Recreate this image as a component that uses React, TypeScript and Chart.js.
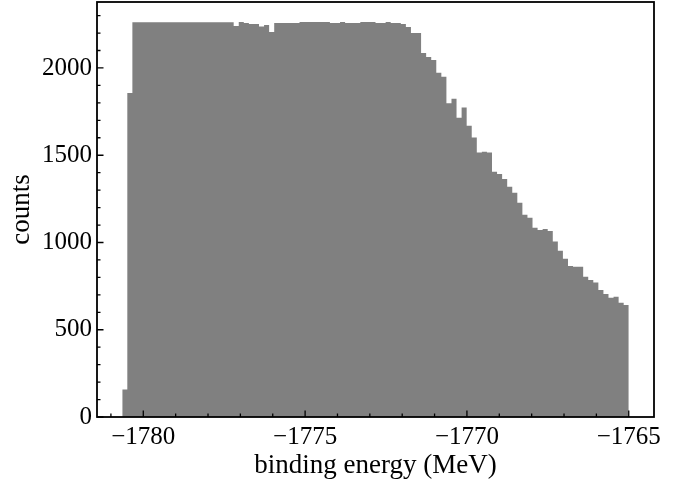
import React, { useEffect, useRef } from "react";
import { Chart, registerables } from "chart.js";

Chart.register(...registerables);

// Histogram bins (binding energy, MeV)
const binStart = -1780.65;
const binWidth = 0.1565;

// Counts per bin
const counts: number[] = [
  158, 1857, 2262, 2262, 2262, 2262, 2262, 2262, 2262, 2262,
  2262, 2262, 2262, 2262, 2262, 2262, 2262, 2262, 2262, 2262,
  2262, 2262, 2241, 2264, 2258, 2252, 2252, 2237, 2246, 2206,
  2258, 2258, 2258, 2258, 2258, 2264, 2264, 2264, 2264, 2264,
  2264, 2258, 2258, 2264, 2258, 2258, 2258, 2264, 2264, 2264,
  2258, 2258, 2264, 2258, 2258, 2252, 2235, 2201, 2201, 2086,
  2063, 2046, 1973, 1950, 1798, 1824, 1715, 1773, 1669, 1601,
  1515, 1520, 1515, 1406, 1393, 1364, 1320, 1285, 1228, 1159,
  1142, 1085, 1072, 1077, 1066, 1005, 953, 907, 865, 861,
  861, 804, 785, 770, 728, 705, 684, 689, 655, 642,
];

const xMajorTicks = [-1780, -1775, -1770, -1765];
const xMinorTicks = [-1781, -1779, -1778, -1777, -1776, -1774, -1773, -1772, -1771, -1769, -1768, -1767, -1766];
const yMajorTicks = [0, 500, 1000, 1500, 2000];
const yMinorTicks = [100, 200, 300, 400, 600, 700, 800, 900, 1100, 1200, 1300, 1400, 1600, 1700, 1800, 1900, 2100, 2200, 2300];

const xLabel = "binding energy (MeV)";
const yLabel = "counts";

const FONT = "'Liberation Serif', 'DejaVu Serif', serif";

const framePlugin = {
  id: "frameTicks",
  afterDraw(chart: any) {
    const ctx = chart.ctx;
    const { left, right, top, bottom } = chart.chartArea;
    const xs = chart.scales.x;
    const ys = chart.scales.y;
    ctx.save();
    ctx.strokeStyle = "#000";
    ctx.lineWidth = 1.3;
    ctx.beginPath();
    const drawX = (v: number, len: number) => {
      const px = xs.getPixelForValue(v);
      ctx.moveTo(px, bottom);
      ctx.lineTo(px, bottom - len);
    };
    const drawY = (v: number, len: number) => {
      const py = ys.getPixelForValue(v);
      ctx.moveTo(left, py);
      ctx.lineTo(left + len, py);
    };
    xMajorTicks.forEach((v) => drawX(v, 6.5));
    xMinorTicks.forEach((v) => drawX(v, 3.5));
    yMajorTicks.forEach((v) => drawY(v, 6.5));
    yMinorTicks.forEach((v) => drawY(v, 3.5));
    ctx.stroke();
    ctx.lineWidth = 1.8;
    ctx.strokeRect(left, top, right - left, bottom - top);
    ctx.restore();
  },
};

export default function App() {
  const ref = useRef<HTMLCanvasElement | null>(null);

  useEffect(() => {
    if (!ref.current) return;
    const pts = [] as { x: number; y: number }[];
    for (let i = 0; i <= counts.length; i++) {
      pts.push({ x: binStart + i * binWidth, y: counts[Math.min(i, counts.length - 1)] });
    }
    const chart = new Chart(ref.current, {
      type: "line",
      data: {
        datasets: [
          {
            data: pts,
            stepped: "before",
            fill: "origin",
            backgroundColor: "#808080",
            borderColor: "#808080",
            borderWidth: 0,
            pointRadius: 0,
          },
        ],
      },
      options: {
        animation: false,
        responsive: false,
        events: [],
        layout: { padding: { top: 2, right: 42, left: 0, bottom: 0 } },
        plugins: { legend: { display: false }, tooltip: { enabled: false } },
        scales: {
          x: {
            type: "linear",
            min: -1781.43,
            max: -1764.22,
            grid: { display: false, drawTicks: false },
            border: { display: false },
            afterBuildTicks: (scale: any) => {
              scale.ticks = xMajorTicks.map((v) => ({ value: v }));
            },
            afterFit: (scale: any) => {
              scale.height = 65;
              scale.paddingLeft = 0;
              scale.paddingRight = 0;
            },
            ticks: {
              padding: 5,
              color: "#000",
              font: { family: FONT, size: 25 },
              maxRotation: 0,
              autoSkip: false,
              callback: (v: any) => "\u2212" + Math.abs(Number(v)),
            },
            title: {
              display: true,
              text: xLabel,
              color: "#000",
              font: { family: FONT, size: 27 },
              padding: { top: 0, bottom: 0 },
            },
          },
          y: {
            type: "linear",
            min: 0,
            max: 2378,
            grid: { display: false, drawTicks: false },
            border: { display: false },
            afterBuildTicks: (scale: any) => {
              scale.ticks = yMajorTicks.map((v) => ({ value: v }));
            },
            afterFit: (scale: any) => {
              scale.width = 97;
              scale.paddingTop = 0;
              scale.paddingBottom = 0;
            },
            ticks: {
              padding: 5,
              color: "#000",
              font: { family: FONT, size: 25 },
              autoSkip: false,
              callback: (v: any) => String(v),
            },
            title: {
              display: true,
              text: yLabel,
              color: "#000",
              font: { family: FONT, size: 27 },
              padding: { top: 6, bottom: 0 },
            },
          },
        },
      },
      plugins: [framePlugin],
    });
    return () => chart.destroy();
  }, []);

  return (
    <div style={{ position: "fixed", left: 0, top: 0, width: 696, height: 482, background: "#fff" }}>
      <canvas ref={ref} width={696} height={482} style={{ display: "block", width: 696, height: 482 }} />
    </div>
  );
}
